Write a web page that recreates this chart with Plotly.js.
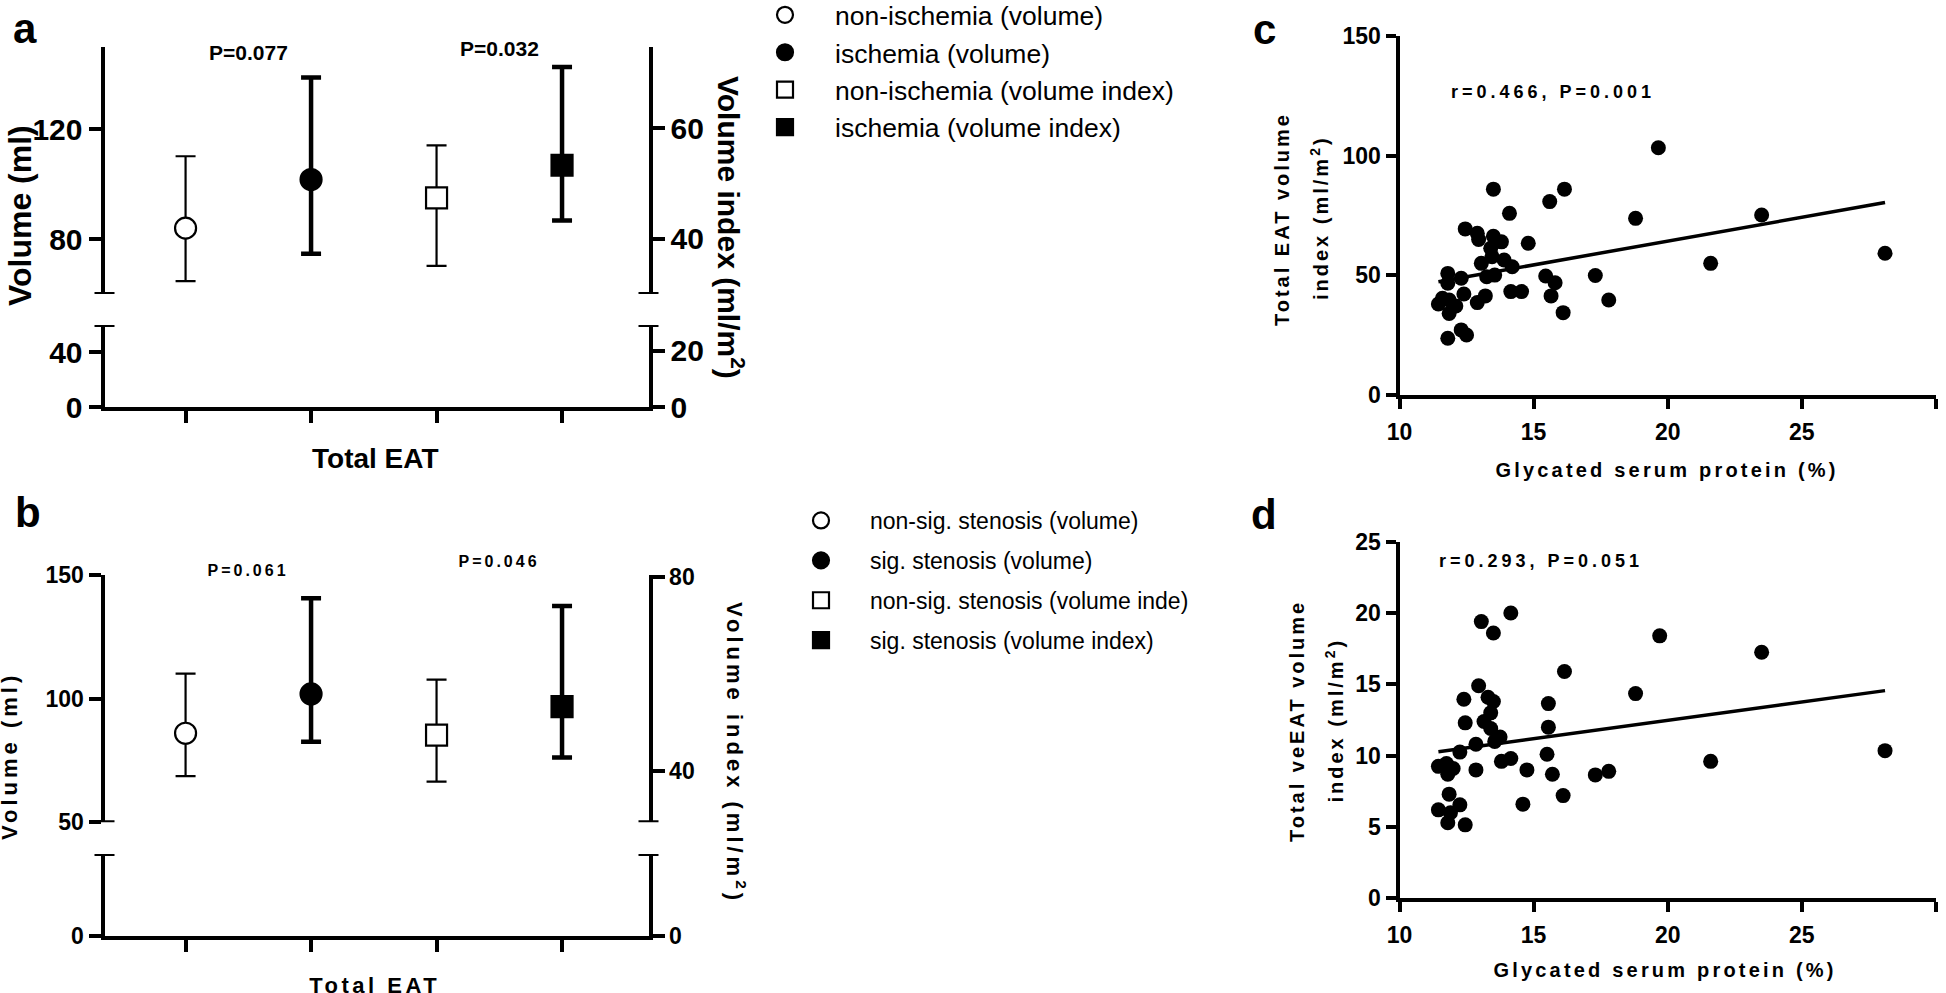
<!DOCTYPE html>
<html>
<head>
<meta charset="utf-8">
<script src="https://cdn.plot.ly/plotly-3.0.1.min.js"></script>
<style>
  html, body { margin: 0; padding: 0; background: #fff; }
  #chart { width: 1946px; height: 993px; }
</style>
</head>
<body>
<div id="chart"></div>
<script>
// ---------------- DATA ----------------
// Panel a: Total EAT, ischemia vs non-ischemia (centre value with range bars)
const groupNamesA = ['non-ischemia (volume)', 'ischemia (volume)', 'non-ischemia (volume index)', 'ischemia (volume index)'];
const catPosA = [1, 2, 3, 4];
const centerA = [84.0, 101.7, 47.4, 53.3];
const upperA  = [110.2, 138.9, 56.9, 71.1];
const lowerA  = [64.7, 74.7, 35.1, 43.3];
const pLabelsA = ['P=0.077', 'P=0.032'];

// Panel b: Total EAT, sig. stenosis vs non-sig. stenosis
const groupNamesB = ['non-sig. stenosis (volume)', 'sig. stenosis (volume)', 'non-sig. stenosis (volume inde)', 'sig. stenosis (volume index)'];
const catPosB = [1, 2, 3, 4];
const centerB = [86.0, 101.9, 47.4, 53.3];
const upperB  = [110.1, 140.6, 58.9, 74.1];
const lowerB  = [68.7, 82.6, 37.8, 42.8];
const pLabelsB = ['P=0.061', 'P=0.046'];

// Panel c: Glycated serum protein vs Total EAT volume index
const gspC = [19.65, 13.5, 16.15, 15.6, 14.1, 18.8, 12.45, 12.9, 12.95, 13.5, 13.8, 14.8, 13.4, 13.45, 13.05, 13.9, 14.2, 13.55, 13.25, 11.8, 11.8, 12.3, 15.45, 15.8, 17.3, 12.4, 13.2, 12.9, 14.15, 14.55, 15.65, 17.8, 16.1, 11.45, 11.85, 12.1, 11.85, 11.6, 11.8, 12.3, 12.5, 21.6, 23.5, 28.1];
const eatC = [103.3, 86.0, 86.0, 80.8, 75.9, 73.8, 69.4, 67.6, 65.0, 66.3, 64.0, 63.4, 61.3, 57.8, 55.0, 56.4, 53.6, 50.1, 49.4, 50.8, 46.7, 48.8, 49.7, 46.9, 49.9, 42.2, 41.4, 38.6, 43.2, 43.2, 41.4, 39.7, 34.4, 38.0, 39.7, 37.2, 34.1, 40.4, 23.7, 27.2, 25.1, 55.0, 75.2, 59.2];
const fitXC = [11.45, 28.1];
const fitYC = [47.3, 80.4];
const statC = 'r=0.466, P=0.001';

// Panel d: Glycated serum protein vs Total veEAT volume index
const gspD = [13.05, 14.15, 13.5, 19.7, 16.15, 18.8, 12.95, 12.4, 13.3, 13.5, 15.55, 13.4, 12.45, 13.15, 15.55, 13.4, 13.75, 13.55, 12.85, 12.25, 15.5, 13.8, 14.15, 11.45, 11.75, 11.8, 12.0, 12.85, 14.75, 15.7, 17.3, 17.8, 16.1, 11.85, 14.6, 11.45, 12.25, 11.9, 11.8, 12.45, 21.6, 23.5, 28.1];
const veatD = [19.4, 20.0, 18.6, 18.4, 15.9, 14.35, 14.9, 13.95, 14.1, 13.8, 13.65, 13.0, 12.3, 12.4, 12.0, 11.9, 11.3, 11.0, 10.8, 10.25, 10.1, 9.6, 9.8, 9.25, 9.45, 8.7, 9.1, 9.0, 9.0, 8.7, 8.65, 8.9, 7.2, 7.3, 6.6, 6.2, 6.55, 6.0, 5.3, 5.15, 9.6, 17.25, 10.35];
const fitXD = [11.45, 28.1];
const fitYD = [10.28, 14.56];
const statD = 'r=0.293, P=0.051';

// ---------------- LAYOUT HELPERS ----------------
const W = 1946, H = 993;
const px = v => v / W;
const py = v => 1 - v / H;
const SANS = "'Liberation Sans', Arial, Helvetica, sans-serif";
const bold = s => ({family: SANS, size: s, color: '#000', weight: 'bold'});
const reg = s => ({family: SANS, size: s, color: '#000'});

const axBase = {
  showgrid: false, zeroline: false, showline: true, linecolor: '#000', linewidth: 4,
  ticks: 'outside', tickcolor: '#000', tickwidth: 4, fixedrange: true
};

const symbols = ['circle', 'circle', 'square', 'square'];
const filled = [false, true, false, true];

const traces = [];
function addGroupTraces(names, pos, center, upper, lower, xa, yaLeft, yaRight, legendId, prefix) {
  for (let i = 0; i < names.length; i++) {
    traces.push({
      type: 'scatter', mode: 'markers',
      x: [pos[i]], y: [center[i]],
      xaxis: xa, yaxis: i < 2 ? yaLeft : yaRight,
      name: names[i], legend: legendId, legendgroup: prefix + i,
      cliponaxis: false, hoverinfo: 'skip',
      marker: {
        symbol: symbols[i], size: 21,
        color: filled[i] ? '#000' : '#fff',
        line: {color: '#000', width: 2.2}
      },
      error_y: {
        type: 'data', symmetric: false,
        array: [upper[i] - center[i]], arrayminus: [center[i] - lower[i]],
        color: '#000', thickness: filled[i] ? 4.5 : 2.2, width: 10
      }
    });
  }
}
addGroupTraces(groupNamesA, catPosA, centerA, upperA, lowerA, 'x', 'y', 'y2', 'legend', 'a');
addGroupTraces(groupNamesB, catPosB, centerB, upperB, lowerB, 'x2', 'y5', 'y6', 'legend2', 'b');

// empty traces so the broken-axis lower segments exist as subplots
[['x','y3'],['x','y4'],['x2','y7'],['x2','y8']].forEach(p => traces.push({
  type: 'scatter', mode: 'markers', x: [], y: [], xaxis: p[0], yaxis: p[1], showlegend: false, hoverinfo: 'skip'
}));

// scatter panels
traces.push({type: 'scatter', mode: 'markers', x: gspC, y: eatC, xaxis: 'x3', yaxis: 'y9',
  marker: {size: 15, color: '#000'}, showlegend: false, hoverinfo: 'skip', cliponaxis: false});
traces.push({type: 'scatter', mode: 'lines', x: fitXC, y: fitYC, xaxis: 'x3', yaxis: 'y9',
  line: {color: '#000', width: 3.5}, showlegend: false, hoverinfo: 'skip'});
traces.push({type: 'scatter', mode: 'markers', x: gspD, y: veatD, xaxis: 'x4', yaxis: 'y10',
  marker: {size: 15, color: '#000'}, showlegend: false, hoverinfo: 'skip', cliponaxis: false});
traces.push({type: 'scatter', mode: 'lines', x: fitXD, y: fitYD, xaxis: 'x4', yaxis: 'y10',
  line: {color: '#000', width: 3.5}, showlegend: false, hoverinfo: 'skip'});

// axis geometry (pixels)
const AB_LEFT = 104.5, AB_RIGHT = 648.5;
const A_UP = [47, 294], A_LOW = [325, 407];
const B_UP = [575, 822.3], B_LOW = [854, 935.7];
const CD_LEFT = 1399.5, CD_RIGHT = 1936;
const C_Y = [36, 395], D_Y = [541.7, 898.3];
const catRange = [0.354, 4.689];
const rngA = {y: [60, 150], y2: [30, 74.7], y3: [0, 60], y4: [0, 29.2]};
const rngB = {y5: [50, 150], y6: [29.4, 80.5], y7: [0, 35], y8: [0, 35]};
const TICK_BCD = 23;

const layout = {
  width: W, height: H,
  margin: {l: 0, r: 0, t: 0, b: 0, autoexpand: false},
  paper_bgcolor: '#fff', plot_bgcolor: 'rgba(0,0,0,0)',
  font: {family: SANS, color: '#000'},
  showlegend: true,
  // ---- panel a
  xaxis: Object.assign({}, axBase, {domain: [px(AB_LEFT), px(AB_RIGHT)], range: catRange, anchor: 'y3',
    tickvals: catPosA, showticklabels: false, ticklen: 12}),
  yaxis: Object.assign({}, axBase, {domain: [py(A_UP[1]), py(A_UP[0])], range: rngA.y, anchor: 'x',
    tickvals: [80, 120], ticklen: 12, tickfont: bold(30)}),
  yaxis2: Object.assign({}, axBase, {overlaying: 'y', side: 'right', anchor: 'x', range: rngA.y2,
    tickvals: [40, 60], ticklen: 12, tickfont: bold(30)}),
  yaxis3: Object.assign({}, axBase, {domain: [py(A_LOW[1]), py(A_LOW[0])], range: rngA.y3, anchor: 'x',
    tickvals: [0, 40], ticklen: 12, tickfont: bold(30)}),
  yaxis4: Object.assign({}, axBase, {overlaying: 'y3', side: 'right', anchor: 'x', range: rngA.y4,
    tickvals: [0, 20], ticklen: 12, tickfont: bold(30)}),
  // ---- panel b
  xaxis2: Object.assign({}, axBase, {domain: [px(AB_LEFT), px(AB_RIGHT)], range: catRange, anchor: 'y7',
    tickvals: catPosB, showticklabels: false, ticklen: 12}),
  yaxis5: Object.assign({}, axBase, {domain: [py(B_UP[1]), py(B_UP[0])], range: rngB.y5, anchor: 'x2',
    tickvals: [50, 100, 150], ticklen: 12, tickfont: bold(TICK_BCD)}),
  yaxis6: Object.assign({}, axBase, {overlaying: 'y5', side: 'right', anchor: 'x2', range: rngB.y6,
    tickvals: [40, 80], ticklen: 12, tickfont: bold(TICK_BCD)}),
  yaxis7: Object.assign({}, axBase, {domain: [py(B_LOW[1]), py(B_LOW[0])], range: rngB.y7, anchor: 'x2',
    tickvals: [0], ticklen: 12, tickfont: bold(TICK_BCD)}),
  yaxis8: Object.assign({}, axBase, {overlaying: 'y7', side: 'right', anchor: 'x2', range: rngB.y8,
    tickvals: [0], ticklen: 12, tickfont: bold(TICK_BCD)}),
  // ---- panel c
  xaxis3: Object.assign({}, axBase, {domain: [px(CD_LEFT), px(CD_RIGHT)], range: [10, 30], anchor: 'y9',
    tick0: 10, dtick: 5, ticklen: 10, tickfont: bold(TICK_BCD), ticklabelstandoff: 3}),
  yaxis9: Object.assign({}, axBase, {domain: [py(C_Y[1]), py(C_Y[0])], range: [0, 150], anchor: 'x3',
    tick0: 0, dtick: 50, ticklen: 10, tickfont: bold(TICK_BCD)}),
  // ---- panel d
  xaxis4: Object.assign({}, axBase, {domain: [px(CD_LEFT), px(CD_RIGHT)], range: [10, 30], anchor: 'y10',
    tick0: 10, dtick: 5, ticklen: 10, tickfont: bold(TICK_BCD), ticklabelstandoff: 3}),
  yaxis10: Object.assign({}, axBase, {domain: [py(D_Y[1]), py(D_Y[0])], range: [0, 25], anchor: 'x4',
    tick0: 0, dtick: 5, ticklen: 10, tickfont: bold(TICK_BCD)}),
  legend: {x: px(735), xanchor: 'left', y: 1.009, yanchor: 'top', font: reg(26.5),
    bgcolor: 'rgba(0,0,0,0)', itemwidth: 90, tracegroupgap: 0, traceorder: 'normal'},
  legend2: {x: px(772), xanchor: 'left', y: py(499), yanchor: 'top', font: reg(23),
    bgcolor: 'rgba(0,0,0,0)', itemwidth: 88, tracegroupgap: 7, traceorder: 'grouped'},
  shapes: [],
  annotations: []
};

// broken-axis caps (short bars across the axis at the break ends)
function cap(xPix, yref, yval) {
  layout.shapes.push({type: 'line', xref: 'paper', yref: yref,
    x0: px(xPix - 10), x1: px(xPix + 10), y0: yval, y1: yval,
    line: {color: '#000', width: 4}});
}
cap(AB_LEFT, 'y', rngA.y[0]);   cap(AB_RIGHT, 'y2', rngA.y2[0]);
cap(AB_LEFT, 'y3', rngA.y3[1]); cap(AB_RIGHT, 'y4', rngA.y4[1]);
cap(AB_LEFT, 'y5', rngB.y5[0]); cap(AB_RIGHT, 'y6', rngB.y6[0]);
cap(AB_LEFT, 'y7', rngB.y7[1]); cap(AB_RIGHT, 'y8', rngB.y8[1]);

// annotations with per-annotation letter spacing
const LS = [];
function note(text, x, y, font, opts, ls) {
  layout.annotations.push(Object.assign({text: text, x: x, y: y, xref: 'paper', yref: 'paper',
    showarrow: false, xanchor: 'center', yanchor: 'middle', font: font}, opts || {}));
  LS.push(ls || 0);
}
// panel a
note('a', px(25), py(28), bold(42));
note(pLabelsA[0], 1.5, py(52), bold(21), {xref: 'x'});
note(pLabelsA[1], 3.5, py(49), bold(21), {xref: 'x'});
note('Volume (ml)', px(20), py(216), bold(32), {textangle: -90});
note('Volume index (ml/m<sup>2</sup>)', px(731), py(227), bold(30), {textangle: 90});
note('Total EAT', px(375), py(458), bold(28));
// panel b
note('b', px(28), py(512), bold(42));
note(pLabelsB[0], 1.5, py(570), bold(16), {xref: 'x2'}, 3);
note(pLabelsB[1], 3.5, py(561), bold(16), {xref: 'x2'}, 3);
note('Volume (ml)', px(9), py(756), bold(22), {textangle: -90}, 4);
note('Volume index (ml/m<sup>2</sup>)', px(736), py(753), bold(22), {textangle: 90}, 4);
note('Total EAT', px(375), py(985), bold(22), {}, 3.5);
// panel c
note('c', px(1264), py(30), bold(42));
note(statC, px(1553), py(92), bold(18), {}, 4);
note('Total EAT volume', px(1282), py(219), bold(20), {textangle: -90}, 3);
note('index (ml/m<sup>2</sup>)', px(1319), py(217.5), bold(20), {textangle: -90}, 3);
note('Glycated serum protein (%)', px(1666.7), py(470), bold(20), {}, 3.2);
// panel d
note('d', px(1264), py(514), bold(42));
note(statD, px(1541), py(561), bold(18), {}, 4);
note('Total veEAT volume', px(1297), py(721), bold(20), {textangle: -90}, 3);
note('index (ml/m<sup>2</sup>)', px(1334), py(720), bold(20), {textangle: -90}, 3);
note('Glycated serum protein (%)', px(1665), py(970), bold(20), {}, 3.2);

const gd = document.getElementById('chart');
function applyAnnotationSpacing() {
  gd.querySelectorAll('g.annotation').forEach(g => {
    const ls = LS[+g.getAttribute('data-index')];
    if (ls) g.querySelectorAll('text').forEach(t => { t.style.letterSpacing = ls + 'px'; });
  });
}
Plotly.newPlot(gd, traces, layout, {staticPlot: true, displayModeBar: false, responsive: false}).then(() => {
  applyAnnotationSpacing();
  [50, 300, 1000].forEach(ms => setTimeout(applyAnnotationSpacing, ms));
});
</script>
</body>
</html>
